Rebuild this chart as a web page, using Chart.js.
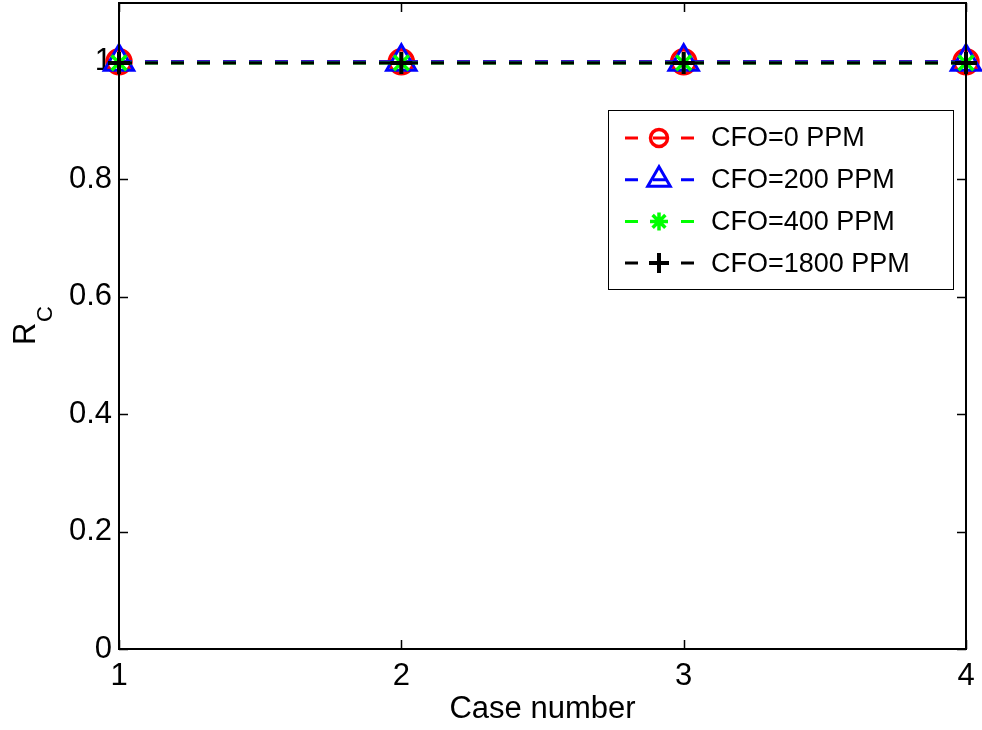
<!DOCTYPE html>
<html>
<head>
<meta charset="utf-8">
<script src="https://cdn.jsdelivr.net/npm/chart.js@4/dist/chart.umd.min.js"></script>
<style>
  html, body { margin: 0; padding: 0; background: #fff; }
  #wrap { width: 982px; height: 730px; position: relative; }
</style>
</head>
<body>
<div id="wrap"><canvas id="rc"></canvas></div>
<script>
// data
var caseLabels = ['1', '2', '3', '4'];
var cfo0 = [1, 1, 1, 1];
var cfo200 = [1, 1, 1, 1];
var cfo400 = [0.998, 0.998, 0.998, 0.998];
var cfo1800 = [0.998, 0.998, 0.998, 0.998];
var yTicks = [0, 0.2, 0.4, 0.6, 0.8, 1];

var FONT = '"Liberation Sans", Arial, Helvetica, sans-serif';

var frame = {
	id: 'frame',
	afterDraw: function(chart) {
		var ctx = chart.ctx, a = chart.chartArea;
		var xs = chart.scales.x, ys = chart.scales.y;
		ctx.save();
		ctx.strokeStyle = '#000';
		ctx.lineWidth = 2;
		ctx.strokeRect(a.left, a.top, a.right - a.left, a.bottom - a.top);
		ctx.lineWidth = 1.5;
		ctx.beginPath();
		xs.ticks.forEach(function(t, i) {
			var x = Math.round(xs.getPixelForTick(i)) + 0.5;
			ctx.moveTo(x, a.bottom); ctx.lineTo(x, a.bottom - 9);
			ctx.moveTo(x, a.top); ctx.lineTo(x, a.top + 9);
		});
		ys.ticks.forEach(function(t) {
			var y = Math.round(ys.getPixelForValue(t.value)) + 0.5;
			ctx.moveTo(a.left, y); ctx.lineTo(a.left + 9, y);
			ctx.moveTo(a.right, y); ctx.lineTo(a.right - 9, y);
		});
		ctx.stroke();

		// axis titles
		ctx.fillStyle = '#000';
		ctx.font = '31px ' + FONT;
		ctx.textAlign = 'center';
		ctx.textBaseline = 'alphabetic';
		ctx.fillText('Case number', (a.left + a.right) / 2, 718);

		ctx.save();
		ctx.translate(35, (a.top + a.bottom) / 2 + 19);
		ctx.rotate(-Math.PI / 2);
		ctx.textAlign = 'left';
		ctx.font = '31px ' + FONT;
		ctx.fillText('R', 0, 0);
		ctx.font = '22px ' + FONT;
		ctx.fillText('C', 23, 17);
		ctx.restore();

		// legend
		var bx = a.right - 358, by = 110, bw = 345, bh = 179;
		ctx.fillStyle = '#fff';
		ctx.fillRect(bx, by, bw, bh);
		ctx.strokeStyle = '#000';
		ctx.lineWidth = 1;
		ctx.strokeRect(bx + 0.5, by + 0.5, bw, bh);
		var legendSizes = [8.5, 13, 9, 10];
		chart.data.datasets.forEach(function(ds, i) {
			var y = by + 28 + i * 41.7;
			ctx.strokeStyle = ds.borderColor;
			ctx.lineWidth = 3;
			ctx.setLineDash([13, 15]);
			ctx.beginPath();
			ctx.moveTo(bx + 17, y); ctx.lineTo(bx + 86, y);
			ctx.stroke();
			ctx.setLineDash([]);
			ctx.fillStyle = 'rgba(0,0,0,0)';
			ctx.strokeStyle = ds.pointBorderColor;
			ctx.lineWidth = ds.pointBorderWidth;
			Chart.helpers.drawPoint(ctx, {
				pointStyle: ds.pointStyle,
				radius: legendSizes[i],
				rotation: 0,
				borderWidth: ds.pointBorderWidth
			}, bx + 51, y);
			ctx.fillStyle = '#000';
			ctx.font = '27px ' + FONT;
			ctx.textAlign = 'left';
			ctx.textBaseline = 'middle';
			ctx.fillText(ds.label, bx + 103, y + 1);
		});
		ctx.restore();
	}
};

function series(label, data, color, style, radius, bw, order) {
	return {
		label: label,
		data: data,
		borderColor: color,
		backgroundColor: color,
		borderWidth: 3,
		borderDash: [13, 13],
		pointStyle: style,
		pointRadius: radius,
		pointHoverRadius: radius,
		pointBorderColor: color,
		pointBackgroundColor: 'rgba(0,0,0,0)',
		pointBorderWidth: bw,
		tension: 0,
		fill: false,
		clip: false,
		order: order
	};
}

new Chart(document.getElementById('rc'), {
	type: 'line',
	data: {
		labels: caseLabels,
		datasets: [
			series('CFO=0 PPM', cfo0, '#ff0000', 'circle', 12, 3.5, 4),
			series('CFO=200 PPM', cfo200, '#0000ff', 'triangle', 17, 3, 3),
			series('CFO=400 PPM', cfo400, '#00ff00', 'star', 10.5, 3.5, 2),
			series('CFO=1800 PPM', cfo1800, '#000000', 'cross', 11, 4, 1)
		]
	},
	options: {
		responsive: true,
		maintainAspectRatio: false,
		animation: false,
		layout: { autoPadding: false, padding: { top: 3, right: 16, left: 0, bottom: 0 } },
		plugins: { legend: { display: false }, tooltip: { enabled: false } },
		scales: {
			x: {
				offset: false,
				grid: { display: false, drawTicks: false },
				border: { display: false },
				ticks: { color: '#000', font: { family: FONT, size: 31 }, padding: 9, maxRotation: 0 },
				afterFit: function(s) {
					s.height = 81;
					s.paddingLeft = 0; s.paddingRight = 0;
				}
			},
			y: {
				min: 0,
				max: 1.1,
				grid: { display: false, drawTicks: false },
				border: { display: false },
				afterBuildTicks: function(s) {
					s.ticks = yTicks.map(function(v) { return { value: v }; });
				},
				ticks: {
					color: '#000',
					font: { family: FONT, size: 31 },
					padding: 7,
					callback: function(v) { return String(+(+v).toFixed(1)); }
				},
				afterFit: function(s) {
					s.width = 119;
					s.paddingTop = 0; s.paddingBottom = 0;
				}
			}
		}
	},
	plugins: [frame]
});
</script>
</body>
</html>
